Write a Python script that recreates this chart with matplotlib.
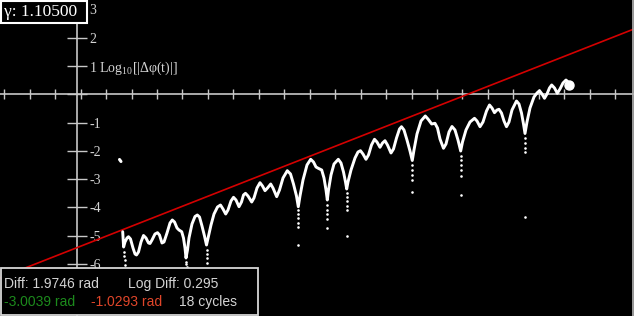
import numpy as np
import matplotlib
matplotlib.use("Agg")
import matplotlib.pyplot as plt
from matplotlib.patches import Rectangle
from matplotlib.lines import Line2D
from matplotlib.ticker import FuncFormatter

plt.rcParams['mathtext.fontset'] = 'custom'
plt.rcParams['mathtext.rm'] = 'Liberation Serif'

# traced trajectory: time (tick units) and log10|dphi|
t = [1.650, 1.670, 1.686, 1.741, 1.819, 1.878, 1.957, 2.055, 2.134, 2.193,
     2.271, 2.369, 2.468, 2.566, 2.664, 2.723, 2.802, 2.919, 3.018, 3.096,
     3.194, 3.273, 3.391, 3.509, 3.599, 3.686, 3.784, 3.862, 3.969, 4.039,
     4.098, 4.138, 4.196, 4.255, 4.373, 4.491, 4.582, 4.668, 4.766, 4.864,
     4.943, 5.022, 5.120, 5.238, 5.375, 5.493, 5.591, 5.697, 5.788, 5.906,
     6.004, 6.102, 6.220, 6.318, 6.397, 6.475, 6.574, 6.719, 6.809, 6.927,
     7.045, 7.143, 7.242, 7.340, 7.466, 7.556, 7.701, 7.811, 7.949, 8.118,
     8.244, 8.361, 8.479, 8.550, 8.617, 8.735, 8.892, 9.037, 9.147, 9.246,
     9.336, 9.470, 9.560, 9.639, 9.690, 9.737, 9.835, 9.953, 10.122, 10.228,
     10.326, 10.405, 10.452, 10.503, 10.621, 10.778, 10.896, 10.994, 11.092, 11.210,
     11.308, 11.426, 11.544, 11.642, 11.760, 11.859, 11.957, 12.055, 12.193, 12.291,
     12.409, 12.527, 12.605, 12.703, 12.821, 12.939, 13.029, 13.096, 13.214, 13.371,
     13.540, 13.646, 13.792, 13.921, 14.020, 14.118, 14.255, 14.354, 14.472, 14.589,
     14.707, 14.825, 14.931, 15.002, 15.139, 15.297, 15.473, 15.572, 15.690, 15.807,
     15.945, 16.063, 16.161, 16.259, 16.358, 16.436, 16.534, 16.633, 16.731, 16.829,
     16.947, 17.124, 17.222, 17.320, 17.399, 17.458, 17.536, 17.654, 17.811, 17.929,
     18.028, 18.126, 18.224, 18.322, 18.420, 18.507, 18.617, 18.727, 18.833, 18.951,
     19.069, 19.147, 19.206]
logdiff = [-4.855, -5.148, -5.396, -5.219, -5.078, -5.032, -5.113, -5.431, -5.643, -5.678,
           -5.572, -5.219, -4.989, -5.078, -5.254, -5.272, -5.148, -4.936, -4.890, -4.972,
           -5.254, -5.219, -4.901, -4.548, -4.442, -4.512, -4.724, -4.795, -4.855, -5.078,
           -5.431, -5.784, -5.502, -5.078, -4.583, -4.318, -4.265, -4.336, -4.654, -5.007,
           -5.325, -5.007, -4.618, -4.230, -3.982, -3.912, -4.053, -4.230, -4.088, -3.770,
           -3.640, -3.735, -3.972, -3.806, -3.558, -3.498, -3.594, -3.806, -3.664, -3.311,
           -3.124, -3.240, -3.406, -3.311, -3.170, -3.311, -3.618, -3.382, -2.958, -2.700,
           -2.816, -3.170, -3.594, -3.972, -3.594, -3.028, -2.498, -2.297, -2.392, -2.569,
           -2.615, -2.675, -2.958, -3.382, -3.735, -3.382, -2.852, -2.463, -2.297, -2.428,
           -2.746, -3.099, -3.346, -3.099, -2.675, -2.251, -2.039, -1.993, -2.110, -2.297,
           -2.145, -1.792, -1.590, -1.686, -1.873, -1.721, -1.640, -1.792, -2.074, -1.933,
           -1.544, -1.226, -1.145, -1.261, -1.615, -2.004, -2.339, -1.968, -1.403, -0.943,
           -0.767, -0.873, -1.049, -1.025, -1.191, -1.580, -1.908, -1.756, -1.332, -1.138,
           -1.261, -1.615, -2.004, -1.686, -1.261, -0.979, -0.848, -0.943, -1.145, -0.979,
           -0.590, -0.378, -0.484, -0.650, -0.555, -0.530, -0.661, -0.943, -1.145, -0.979,
           -0.555, -0.237, -0.343, -0.661, -1.049, -1.385, -0.979, -0.484, -0.095, 0.046,
           0.127, 0.011, -0.141, 0.011, 0.223, 0.329, 0.223, 0.035, 0.187, 0.399,
           0.505, 0.435, 0.329]

# sparse samples where the difference passes through zero
dip_t = [1.701, 1.721, 1.741, 1.741,
         4.149, 4.157, 4.165,
         4.963, 4.963, 4.974, 4.974,
         8.550, 8.550, 8.550, 8.550, 8.550, 8.550,
         9.690, 9.690, 9.690, 9.690, 9.690,
         10.452, 10.452, 10.452, 10.452, 10.452, 10.452,
         13.037, 13.037, 13.037, 13.037, 13.037,
         14.943, 14.943, 14.943, 14.943, 14.943, 14.943,
         17.470, 17.470, 17.470, 17.470, 17.470]
dip_y = [-5.572, -5.714, -5.855, -6.032,
         -5.926, -6.014, -6.102,
         -5.502, -5.643, -5.784, -5.972,
         -4.088, -4.230, -4.371, -4.548, -4.689, -5.325,
         -3.912, -4.088, -4.230, -4.406, -4.724,
         -3.488, -3.629, -3.770, -3.947, -4.088, -5.007,
         -2.498, -2.675, -2.852, -3.028, -3.470,
         -2.180, -2.322, -2.498, -2.675, -2.887, -3.558,
         -1.544, -1.721, -1.898, -2.039, -4.325]

stray_t = [1.525, 1.583]
stray_y = [-2.304, -2.375]

# fitted growth line
fit_slope = 0.353
fit_icept = -5.367

gamma = "1.10500"
diff_rad = 1.9746
log_diff = 0.295
phi_a = -3.0039
phi_b = -1.0293
cycles = 18

W, H = 634, 316
AXC = '#c8c8c8'

fig = plt.figure(figsize=(W / 100, H / 100), dpi=100, facecolor='black')
ax = fig.add_axes([0, 0, 1, 1])
ax.set_facecolor('black')
ax.set_xlim(-3.171, 21.741)
ax.set_ylim(-7.834, 3.332)

# axes crossing in the middle
ax.spines['top'].set_visible(False)
ax.spines['left'].set_visible(False)
ax.spines['bottom'].set_position(('data', 0))
ax.spines['right'].set_position(('data', -0.134))
for s in ('bottom', 'right'):
    ax.spines[s].set_color(AXC)
    ax.spines[s].set_linewidth(1.2)
ax.yaxis.tick_right()

ax.set_xticks(range(-3, 22))
ax.tick_params(axis='x', direction='inout', length=7.5, width=1,
               colors=AXC, labelbottom=False)
# -7 sits under the info box, so it is left out
ax.set_yticks(range(-6, 4))
ax.tick_params(axis='y', direction='inout', length=14.5, width=1,
               colors=AXC, pad=1.5, labelsize=10, labelcolor='#d4d4d4')


def ylab(v, pos):
    v = int(round(v))
    if v == 0:
        return ''
    if v == 1:
        return '1 Log$_{10}$[|\u0394\u03c6(t)|]'
    return str(v).replace('\u2212', '-')


ax.yaxis.set_major_formatter(FuncFormatter(ylab))
for lab in ax.get_yticklabels():
    lab.set_fontfamily('Liberation Serif')

xs = np.array(ax.get_xlim())
ax.plot(xs, fit_slope * xs + fit_icept, color='#d40000', lw=1.2, zorder=3)

ax.plot(t, logdiff, color='white', lw=2.1, solid_joinstyle='round',
        solid_capstyle='round', zorder=4)
ax.scatter(dip_t, dip_y, s=3.5, color='white', lw=0, zorder=4)
ax.plot(stray_t, stray_y, color='white', lw=2.2, solid_capstyle='round', zorder=4)
ax.plot(t[-1], logdiff[-1], 'o', ms=6.5, color='white', mec='white', zorder=5)

# gamma box
fig.add_artist(Rectangle((1 / W, 1 - 22.5 / H), 86 / W, 21.5 / H,
                         transform=fig.transFigure, fc='black', ec='white',
                         lw=1.5, zorder=10))
fig.text(4 / W, 1 - 11.5 / H, '\u03b3: ' + gamma, color='white',
         family='Liberation Serif', size=12.5, va='center', zorder=11)

# diff box
fig.add_artist(Rectangle((0.8 / W, 0.8 / H), 257 / W, 47.5 / H,
                         transform=fig.transFigure, fc='black', ec='#d8d8d8',
                         lw=1.3, zorder=10))
sans = 'Liberation Sans'
row1, row2 = 31.7 / H, 14.3 / H
fig.text(3.5 / W, row1, f'Diff: {diff_rad:.4f} rad', color='#d4d4d4',
         family=sans, size=10, va='center', zorder=11)
fig.text(127.7 / W, row1, f'Log Diff: {log_diff:.3f}', color='#d4d4d4',
         family=sans, size=10, va='center', zorder=11)
fig.text(3.5 / W, row2, f'{phi_a:.4f} rad', color='#1c8a1c',
         family=sans, size=10, va='center', zorder=11)
fig.text(90.7 / W, row2, f'{phi_b:.4f} rad', color='#e0462a',
         family=sans, size=10, va='center', zorder=11)
fig.text(179.3 / W, row2, f'{cycles} cycles', color='#d4d4d4',
         family=sans, size=10, va='center', zorder=11)

# right edge of the canvas
fig.add_artist(Line2D([632.7 / W, 632.7 / W], [0, 1], transform=fig.transFigure,
                      color='#a8a8a8', lw=1.3))

fig.savefig('out.png', dpi=100, facecolor='black')
